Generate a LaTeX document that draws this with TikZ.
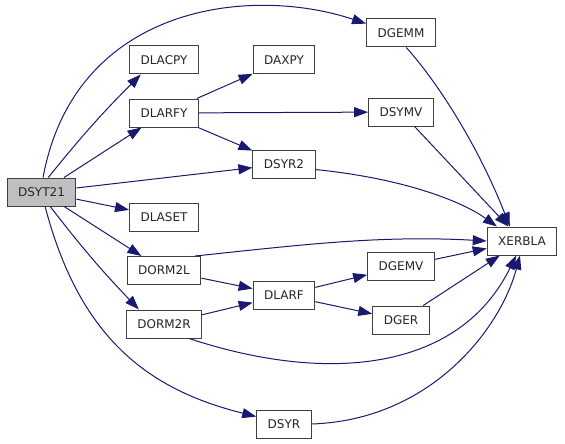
\documentclass[tikz,border=0pt]{standalone}
\usepackage{fontspec}
\setmainfont{DejaVu Sans}
\usepackage{tikz}
\usetikzlibrary{arrows.meta}
\definecolor{edgeblue}{HTML}{191970}
\definecolor{boxgray}{HTML}{BFBFBF}

\begin{document}
\begin{tikzpicture}[
    x=1pt,y=-1pt,
    fn/.style={draw=black!75, line width=1pt, fill=white, minimum height=28pt,
      inner xsep=11pt, inner ysep=0pt, font=\fontsize{12}{14}\selectfont, text=black!85},
    call/.style={draw=edgeblue, line width=1pt,
      -{Triangle[length=14pt,width=10pt]}}
    ]
    \useasboundingbox (0, 0) rectangle (565, 444);
    % functions
    \node[fn, fill=boxgray] (dsyt21) at (41.5, 192) {DSYT21};
    \node[fn] (dlacpy) at (164, 60) {DLACPY};
    \node[fn] (dlarfy) at (164, 113) {DLARFY};
    \node[fn] (dlaset) at (164, 217) {DLASET};
    \node[fn] (dorm2l) at (164, 270.5) {DORM2L};
    \node[fn] (dorm2r) at (164, 324) {DORM2R};
    \node[fn] (daxpy) at (284, 60) {DAXPY};
    \node[fn] (dsyr2) at (284, 164) {DSYR2};
    \node[fn] (dlarf) at (284, 295) {DLARF};
    \node[fn] (dsyr) at (284, 424) {DSYR};
    \node[fn] (dgemm) at (401, 33) {DGEMM};
    \node[fn] (dsymv) at (401, 112) {DSYMV};
    \node[fn] (dgemv) at (401, 266.5) {DGEMV};
    \node[fn] (dger) at (401, 320) {DGER};
    \node[fn] (xerbla) at (522, 241) {XERBLA};
    % calls from DSYT21
    \draw[call] (dsyt21.84) .. controls (75, 5) and (250, -15) .. (dgemm.165);
    \draw[call] (dsyt21.65) to[bend left=3] (dlacpy.212);
    \draw[call] (dsyt21) -- (dlarfy);
    \draw[call] (dsyt21) -- (dsyr2);
    \draw[call] (dsyt21) -- (dlaset);
    \draw[call] (dsyt21) -- (dorm2l);
    \draw[call] (dsyt21.301) to[bend right=3] (dorm2r.150);
    \draw[call] (dsyt21.284) .. controls (80, 340) and (150, 390) .. (dsyr.165);
    % calls from DLARFY
    \draw[call] (dlarfy) -- (daxpy);
    \draw[call] (dlarfy) -- (dsymv);
    \draw[call] (dlarfy) -- (dsyr2);
    % calls from DORM2L, DORM2R, DLARF
    \draw[call] (dorm2l) -- (dlarf);
    \draw[call] (dorm2r) -- (dlarf);
    \draw[call] (dlarf) -- (dgemv);
    \draw[call] (dlarf) -- (dger);
    % calls to XERBLA
    \draw[call] (dgemm.290) .. controls (440, 85) and (480, 150) .. (xerbla.130);
    \draw[call] (dsymv) -- (xerbla);
    \draw[call] (dsyr2.350) .. controls (400, 178) and (460, 200) .. (xerbla.150);
    \draw[call] (dorm2l.25) .. controls (300, 245) and (380, 235) .. (xerbla.west);
    \draw[call] (dgemv) -- (xerbla);
    \draw[call] (dger) -- (xerbla);
    \draw[call] (dorm2r.330) .. controls (330, 385) and (460, 370) .. (xerbla.248);
    \draw[call] (dsyr.east) .. controls (430, 420) and (500, 330) .. (xerbla.262);
  \end{tikzpicture}
\end{document}
